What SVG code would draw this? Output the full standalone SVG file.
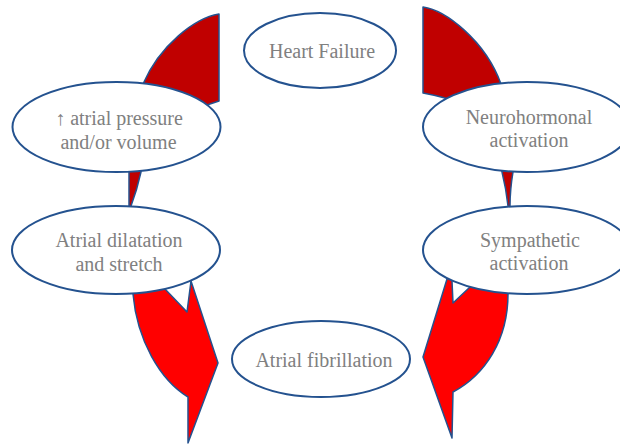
<svg xmlns="http://www.w3.org/2000/svg" width="620" height="444" viewBox="0 0 620 444">
<style>
.node ellipse{fill:#ffffff;stroke:#24528f;stroke-width:2}
.node text{font-family:'Liberation Serif','DejaVu Serif','Times New Roman',serif;font-size:20px;fill:#808080;text-anchor:middle}
.dark{fill:#c00000;stroke:#24528f;stroke-width:1.5;stroke-linejoin:round}
.bright{fill:#ff0000;stroke:#24528f;stroke-width:1.5;stroke-linejoin:round}
</style>
<rect width="620" height="444" fill="#ffffff"/>
<g id="connectors">
<path class="dark" d="M219,14 L219,101 L207,105 L170,135 L141,160 L141,172 Q137,190 131,206 L131,216 L129,216 L129,160 L138,110 L143,84 C160,45 195,18 219,14 Z"/>
<path class="dark" d="M423,7 C445,10 485,40 501,84 L515,130 L513,160 L513,172 Q510,190 510,206 L510,216 L508,216 L508,206 Q506,188 502,172 L500,160 L460,120 L445,98 Q434,95 423,93 Z"/>
<path class="bright" d="M133,284 L133,294 C137,340 160,380 188,397 L188,443 L218,363 L191,281 L187,312 L165,289 L165,280 Z"/>
<path class="bright" d="M447,270 L447,279 L423,357 L452,438 L453,392 C485,375 508,340 508,294 L508,285 L470,282 L470,287 L453,303 L452,281 Z"/>
</g>
<g id="heart-failure" class="node">
<ellipse cx="320" cy="50.5" rx="76" ry="37.5"/>
<text x="322" y="58" font-family="Liberation Serif, serif">Heart Failure</text>
</g>
<g id="atrial-pressure" class="node">
<ellipse cx="116.5" cy="127" rx="104" ry="45"/>
<text x="119" y="125" font-family="Liberation Serif, serif">↑ atrial pressure</text>
<text x="118.5" y="149" font-family="Liberation Serif, serif">and/or volume</text>
</g>
<g id="atrial-dilatation" class="node">
<ellipse cx="116" cy="250" rx="104" ry="44"/>
<text x="119" y="247" font-family="Liberation Serif, serif">Atrial dilatation</text>
<text x="119" y="271" font-family="Liberation Serif, serif">and stretch</text>
</g>
<g id="neurohormonal" class="node">
<ellipse cx="527" cy="127" rx="104" ry="45"/>
<text x="529" y="124" font-family="Liberation Serif, serif">Neurohormonal</text>
<text x="529" y="147" font-family="Liberation Serif, serif">activation</text>
</g>
<g id="sympathetic" class="node">
<ellipse cx="527" cy="250" rx="104" ry="44"/>
<text x="530" y="247" font-family="Liberation Serif, serif">Sympathetic</text>
<text x="529" y="270" font-family="Liberation Serif, serif">activation</text>
</g>
<g id="atrial-fibrillation" class="node">
<ellipse cx="321" cy="359" rx="89" ry="38"/>
<text x="324" y="367" font-family="Liberation Serif, serif">Atrial fibrillation</text>
</g>
</svg>
